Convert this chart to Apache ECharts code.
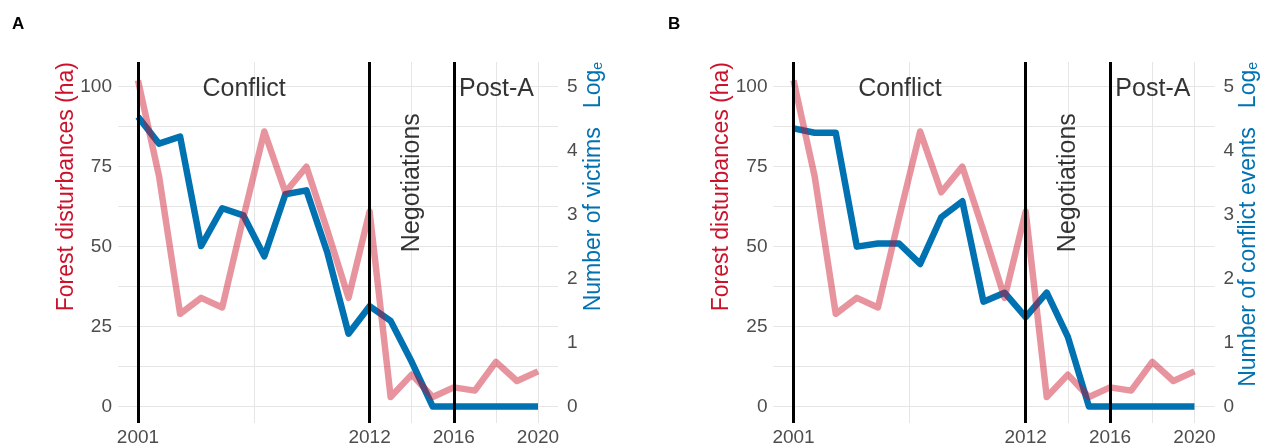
<!DOCTYPE html>
<html>
<head>
<meta charset="utf-8">
<script src="https://cdn.jsdelivr.net/npm/echarts@6/dist/echarts.min.js"></script>
<style>
html,body{margin:0;padding:0;background:#fff;}
#chart{width:1263px;height:447px;}
</style>
</head>
<body>
<div id="chart"></div>
<script>
// ---- data ----
const years = [2001,2002,2003,2004,2005,2006,2007,2008,2009,2010,2011,2012,2013,2014,2015,2016,2017,2018,2019,2020];
const forestDisturbance = [102,72,29,34,31,59,86,67,75,55,34,61,3,10,3,6,5,14,8,11];
const victimsLog = [4.53,4.11,4.22,2.51,3.10,2.99,2.35,3.32,3.38,2.40,1.14,1.57,1.34,0.70,0,0,0,0,0,0];
const eventsLog = [4.35,4.28,4.28,2.50,2.55,2.55,2.23,2.96,3.21,1.64,1.78,1.40,1.78,1.09,0,0,0,0,0,0];
const xTickLabels = [2001,2012,2016,2020];
const xMinorGrid = [2006.5,2014,2018];
const phaseBreaks = [2001,2012,2016];
const leftTicks = [0,25,50,75,100];
const leftMinorGrid = [12.5,37.5,62.5,87.5];
const rightTicks = [0,1,2,3,4,5];
const phaseNames = ['Conflict','Negotiations','Post-A'];
const phaseAnchorX = [2006.04,2014.0,2018.03];
const phaseAnchorY = [99.3,70,99.3];
const panelLetters = ['A','B'];
const rightTitles = ['Number of victims','Number of conflict events'];
const leftTitle = 'Forest disturbances (ha)';

// ---- layout/style ----
const FONT = 'Liberation Sans, Arial, Helvetica, sans-serif';
const RED = '#CC112A';
const PINK = 'rgba(204,17,42,0.45)';
const BLUE = '#0072B2';
const GREY_TXT = '#4D4D4D';
const GRID_COL = '#E6E6E6';
const panels = [
  {left:118, width:440, letterX:12, leftTitleX:67, rightTitleX:594, conflict:victimsLog},
  {left:773.5, width:441, letterX:668, leftTitleX:722, rightTitleX:1249, conflict:eventsLog}
];
const TOP = 62, HEIGHT = 363;
const YMIN = -5.13, YMAX = 107.73, RATIO = 20;

const grids = [], xAxes = [], yAxes = [], series = [], graphics = [];

panels.forEach((p, i) => {
  grids.push({left:p.left, top:TOP, width:p.width, height:HEIGHT, containLabel:false});
  xAxes.push({
    type:'value', gridIndex:i, min:2000.05, max:2020.95,
    axisLine:{show:false}, axisTick:{show:false}, splitLine:{show:false},
    axisLabel:{fontSize:19, color:GREY_TXT, fontFamily:FONT, margin:5,
      customValues:xTickLabels, formatter: v => String(Math.round(v))}
  });
  yAxes.push({
    type:'value', gridIndex:i, position:'left', min:YMIN, max:YMAX,
    axisLine:{show:false}, axisTick:{show:false}, splitLine:{show:false},
    axisLabel:{fontSize:19, color:GREY_TXT, fontFamily:FONT, margin:6, padding:[4,0,0,0],
      customValues:leftTicks, formatter: v => String(Math.round(v))}
  });
  yAxes.push({
    type:'value', gridIndex:i, position:'right', min:YMIN/RATIO, max:YMAX/RATIO,
    axisLine:{show:false}, axisTick:{show:false}, splitLine:{show:false},
    axisLabel:{fontSize:19, color:GREY_TXT, fontFamily:FONT, margin:9, padding:[4,0,0,0],
      customValues:rightTicks, formatter: v => String(Math.round(v))}
  });
  const forestData = years.map((y, k) => [y, forestDisturbance[k]]);
  const conflictData = years.map((y, k) => [y, p.conflict[k]]);
  const gridLines = []
    .concat(leftTicks.concat(leftMinorGrid).map(v => ({yAxis:v})))
    .concat(xTickLabels.concat(xMinorGrid).map(v => ({xAxis:v})));
  // grid lines helper
  series.push({
    type:'line', xAxisIndex:i, yAxisIndex:2*i, data:forestData, symbol:'none', silent:true, z:1,
    lineStyle:{opacity:0},
    markLine:{silent:true, z:1, symbol:['none','none'], animation:false, label:{show:false},
      lineStyle:{color:GRID_COL, width:1, type:'solid'}, data:gridLines}
  });
  // conflict series (log)
  series.push({
    type:'line', xAxisIndex:i, yAxisIndex:2*i+1, data:conflictData, symbol:'none', z:3,
    lineStyle:{color:BLUE, width:6.5, join:'round', cap:'butt'}, itemStyle:{color:BLUE}
  });
  // forest disturbances
  series.push({
    type:'line', xAxisIndex:i, yAxisIndex:2*i, data:forestData, symbol:'none', z:4,
    lineStyle:{color:PINK, width:6.5, join:'round', cap:'butt'}, itemStyle:{color:PINK}
  });
  // phase break lines
  series.push({
    type:'line', xAxisIndex:i, yAxisIndex:2*i, data:forestData, symbol:'none', silent:true, z:5,
    lineStyle:{opacity:0},
    markLine:{silent:true, z:10, symbol:['none','none'], animation:false, label:{show:false},
      lineStyle:{color:'#000', width:3, type:'solid'}, data:phaseBreaks.map(v => ({xAxis:v}))}
  });
  // phase labels
  series.push({
    type:'scatter', xAxisIndex:i, yAxisIndex:2*i, symbolSize:0, silent:true, z:11,
    data: phaseNames.map((n, k) => ({
      name:n, value:[phaseAnchorX[k], phaseAnchorY[k]],
      label:{rotate: n === 'Negotiations' ? 90 : 0}
    })),
    label:{show:true, position:'inside', formatter: d => d.name, fontSize:25, color:'#000',
      fontFamily:FONT, textBorderWidth:0, textBorderColor:'transparent', textShadowBlur:0}
  });
  // texts
  graphics.push({type:'text', x:p.letterX, y:24, style:{text:panelLetters[i], font:'bold 17px ' + FONT, fill:'#000', verticalAlign:'middle', align:'left'}});
  graphics.push({type:'text', x:p.leftTitleX, y:TOP, rotation:Math.PI/2,
    style:{text:leftTitle, font:'23px ' + FONT, fill:RED, align:'right', verticalAlign:'middle'}});
  graphics.push({type:'text', x:p.rightTitleX, y:TOP, rotation:Math.PI/2,
    style:{text:'{a|' + rightTitles[i] + '}{a|   }{a|Log}{s|e}', font:'23px ' + FONT, fill:BLUE, align:'right', verticalAlign:'middle',
      rich:{a:{fontSize:23, fontFamily:FONT, fill:BLUE}, s:{fontSize:14, fontFamily:FONT, fill:BLUE, verticalAlign:'bottom'}}}});
});

const chart = echarts.init(document.getElementById('chart'), null, {renderer:'canvas'});
chart.setOption({
  animation:false,
  backgroundColor:'#fff',
  grid:grids, xAxis:xAxes, yAxis:yAxes, series:series, graphic:graphics
});
</script>
</body>
</html>
